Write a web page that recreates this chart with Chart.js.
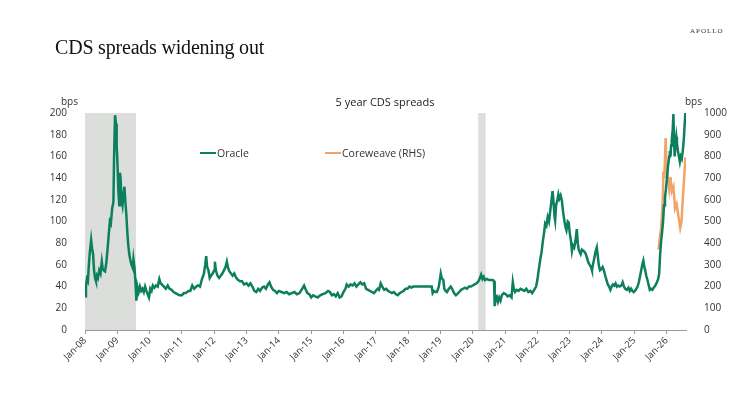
<!DOCTYPE html>
<html>
<head>
<meta charset="utf-8">
<script src="https://cdn.jsdelivr.net/npm/chart.js@4.4.1/dist/chart.umd.min.js"></script>
<style>
  html, body { margin: 0; padding: 0; background: #fff; }
  #wrap { position: relative; width: 741px; height: 403px; overflow: hidden; }
  #c { position: absolute; left: 0; top: 0; }
  .txt { position: absolute; white-space: nowrap; color: #222; }
  #mainTitle { left: 55px; top: 36px; font-family: "Liberation Serif", serif; font-size: 20px; color: #111; letter-spacing: -0.2px; }
  #brand { left: 690px; top: 27px; font-family: "Liberation Serif", serif; font-size: 7px; letter-spacing: 1px; color: #333; }
  #chartTitle { left: 385px; top: 94px; transform: translateX(-50%); font-family: "Open Sans", sans-serif; font-size: 11px; color: #222; }
  .bps { font-family: "Open Sans", sans-serif; font-size: 10px; color: #333; top: 94px; }
  .leg { position: absolute; top: 146px; font-family: "Open Sans", sans-serif; font-size: 10.5px; color: #333; display: flex; align-items: center; }
  .leg span.sw { display: inline-block; width: 16px; height: 2.5px; margin-right: 1px; }
</style>
</head>
<body>
<div id="wrap">
  <canvas id="c" width="741" height="403"></canvas>
  <div class="txt" id="mainTitle">CDS spreads widening out</div>
  <div class="txt" id="brand">APOLLO</div>
  <div class="txt" id="chartTitle">5 year CDS spreads</div>
  <div class="txt bps" style="left:61px;">bps</div>
  <div class="txt bps" style="left:685px;">bps</div>
  <div class="leg" style="left:200px;"><span class="sw" style="background:#0b7f5e"></span>Oracle</div>
  <div class="leg" style="left:325px;"><span class="sw" style="background:#f0a468"></span>Coreweave (RHS)</div>
</div>
<script>
// ---- Data (years as decimal) ----
const tickYears = [2008,2009,2010,2011,2012,2013,2014,2015,2016,2017,2018,2019,2020,2021,2022,2023,2024,2025,2026];
const tickLabels = ["Jan-08","Jan-09","Jan-10","Jan-11","Jan-12","Jan-13","Jan-14","Jan-15","Jan-16","Jan-17","Jan-18","Jan-19","Jan-20","Jan-21","Jan-22","Jan-23","Jan-24","Jan-25","Jan-26"];
const recessionStart = [2008.0, 2020.17];
const recessionEnd   = [2009.58, 2020.40];

const oracleX = [
2008.00,2008.03,2008.06,2008.09,2008.12,2008.15,2008.19,2008.22,2008.25,2008.28,2008.31,2008.34,2008.37,2008.40,2008.44,2008.48,2008.52,2008.55,2008.58,2008.62,
2008.66,2008.70,2008.74,2008.77,2008.80,2008.84,2008.88,2008.90,2008.93,2008.96,2008.98,2009.00,2009.03,2009.06,2009.08,2009.10,2009.13,2009.16,2009.19,2009.22,
2009.25,2009.28,2009.31,2009.34,2009.37,2009.40,2009.44,2009.48,2009.50,2009.53,2009.56,2009.59,2009.62,2009.66,2009.70,2009.74,2009.78,2009.82,2009.86,2009.90,
2009.94,2009.98,2010.02,2010.06,2010.10,2010.15,2010.20,2010.25,2010.30,2010.34,2010.38,2010.44,2010.50,2010.56,2010.62,2010.68,2010.74,2010.80,2010.86,2010.92,
2011.00,2011.06,2011.12,2011.20,2011.26,2011.32,2011.38,2011.44,2011.50,2011.56,2011.62,2011.68,2011.72,2011.75,2011.78,2011.82,2011.86,2011.90,2011.95,2012.00,
2012.02,2012.05,2012.10,2012.15,2012.20,2012.25,2012.30,2012.35,2012.39,2012.43,2012.47,2012.52,2012.57,2012.62,2012.68,2012.74,2012.80,2012.86,2012.92,2013.00,
2013.06,2013.12,2013.18,2013.24,2013.30,2013.36,2013.42,2013.48,2013.54,2013.60,2013.66,2013.71,2013.76,2013.82,2013.88,2013.94,2014.00,2014.08,2014.16,2014.24,
2014.32,2014.40,2014.48,2014.56,2014.64,2014.72,2014.78,2014.82,2014.88,2014.94,2015.00,2015.06,2015.12,2015.20,2015.28,2015.36,2015.44,2015.52,2015.58,2015.64,
2015.70,2015.76,2015.82,2015.88,2015.94,2016.00,2016.06,2016.10,2016.16,2016.22,2016.28,2016.34,2016.40,2016.46,2016.52,2016.58,2016.64,2016.70,2016.76,2016.82,
2016.88,2016.94,2017.00,2017.06,2017.10,2017.15,2017.20,2017.26,2017.32,2017.38,2017.44,2017.50,2017.56,2017.62,2017.68,2017.74,2017.80,2017.86,2017.92,2017.98,
2018.04,2018.10,2018.16,2018.73,2018.76,2018.80,2018.85,2018.89,2018.95,2019.01,2019.04,2019.09,2019.12,2019.16,2019.20,2019.26,2019.32,2019.36,2019.42,2019.48,
2019.52,2019.58,2019.64,2019.70,2019.76,2019.82,2019.88,2019.94,2020.00,2020.06,2020.12,2020.18,2020.22,2020.26,2020.30,2020.34,2020.38,2020.44,2020.50,2020.56,
2020.62,2020.66,2020.68,2020.71,2020.74,2020.78,2020.82,2020.86,2020.90,2020.96,2021.02,2021.08,2021.14,2021.20,2021.24,2021.27,2021.31,2021.36,2021.42,2021.48,
2021.54,2021.60,2021.66,2021.72,2021.78,2021.84,2021.90,2021.96,2022.00,2022.04,2022.09,2022.13,2022.17,2022.21,2022.24,2022.28,2022.32,2022.36,2022.40,2022.44,
2022.47,2022.50,2022.53,2022.55,2022.58,2022.62,2022.65,2022.68,2022.72,2022.76,2022.80,2022.84,2022.87,2022.90,2022.94,2022.97,2023.00,2023.04,2023.07,2023.10,
2023.14,2023.18,2023.22,2023.25,2023.28,2023.31,2023.34,2023.38,2023.42,2023.46,2023.50,2023.54,2023.58,2023.62,2023.66,2023.69,2023.72,2023.76,2023.80,2023.84,
2023.87,2023.90,2023.94,2023.98,2024.02,2024.06,2024.10,2024.14,2024.18,2024.22,2024.26,2024.30,2024.34,2024.38,2024.42,2024.46,2024.50,2024.55,2024.60,2024.64,
2024.68,2024.72,2024.77,2024.82,2024.86,2024.90,2024.94,2024.98,2025.02,2025.06,2025.10,2025.14,2025.18,2025.22,2025.26,2025.28,2025.31,2025.34,2025.37,2025.40,
2025.44,2025.48,2025.52,2025.56,2025.60,2025.65,2025.70,2025.74,2025.77,2025.80,2025.83,2025.86,2025.89,2025.92,2025.95,2025.98,2026.01,2026.04,2026.06,2026.08,
2026.10,2026.12,2026.14,2026.16,2026.19,2026.21,2026.23,2026.25,2026.27,2026.30,2026.32,2026.35,2026.38,2026.41,2026.44,2026.47,2026.50,2026.53,2026.56,2026.58
];
const oracleY = [
31,40,47,45,60,72,83,75,70,55,48,45,50,48,55,52,63,56,55,54,
62,75,90,100,98,112,118,160,198,190,170,158,130,115,145,140,120,115,125,132,
118,106,90,78,70,65,60,57,65,58,45,27,40,35,40,36,38,35,40,36,
33,30,38,36,41,39,41,40,47,43,42,40,38,41,38,37,35,34,33,32,
32,34,34,36,36,41,38,40,41,40,47,52,60,68,58,55,48,50,52,55,
63,55,50,48,50,52,55,58,63,57,54,52,50,52,48,46,45,45,42,43,
41,43,40,36,35,38,36,39,40,38,42,44,40,37,36,34,36,35,34,35,
33,34,35,33,34,38,41,38,34,33,30,32,31,30,32,33,34,36,35,32,
33,31,34,30,31,35,38,42,40,42,41,43,40,42,44,42,43,38,37,36,
35,34,36,38,37,43,40,37,38,36,35,34,35,33,32,34,35,36,38,38,
40,39,40,40,34,36,35,35,40,52,48,46,38,36,35,38,40,38,34,32,
33,35,37,38,39,38,40,40,41,42,43,45,48,51,47,49,46,47,46,46,
46,45,22,30,31,26,30,27,32,34,33,31,32,30,44,38,35,37,36,38,
37,36,38,35,36,34,37,40,46,55,65,72,82,90,98,96,104,100,110,120,
128,118,105,101,115,120,125,121,124,119,108,100,95,92,100,99,90,82,73,78,
76,82,93,80,74,72,70,74,73,72,70,66,62,60,58,55,60,66,72,76,
68,60,55,56,58,55,50,46,42,40,37,40,42,41,43,40,41,40,41,44,
40,38,37,39,36,38,36,35,36,38,40,44,50,56,62,64,58,55,50,47,
42,37,38,37,39,41,44,47,52,70,82,90,100,115,122,130,140,150,155,160,
165,160,170,175,185,199,175,160,170,178,172,165,160,155,160,158,165,175,190,200
];

const coreX = [2025.75,2025.83,2025.88,2025.90,2025.93,2025.97,2026.00,2026.04,2026.08,2026.12,2026.16,2026.21,2026.26,2026.31,2026.37,2026.42,2026.46,2026.50,2026.55,2026.58];
const coreY = [370,470,590,730,700,885,740,700,650,705,640,660,560,580,520,470,500,600,720,795];

// ---- Chart ----
Chart.defaults.font.family = "'Open Sans', sans-serif";
Chart.defaults.color = '#333';

const bandPlugin = {
  id: 'bands',
  beforeDatasetsDraw(chart) {
    const {ctx, chartArea, scales} = chart;
    ctx.save();
    ctx.fillStyle = '#dcdedc';
    for (let i = 0; i < recessionStart.length; i++) {
      const x1 = scales.x.getPixelForValue(recessionStart[i]);
      const x2 = scales.x.getPixelForValue(recessionEnd[i]);
      ctx.fillRect(x1, chartArea.top, x2 - x1, chartArea.bottom - chartArea.top);
    }
    ctx.restore();
  }
};

new Chart(document.getElementById('c'), {
  type: 'line',
  data: {
    datasets: [
      {
        label: 'Oracle',
        data: oracleX.map((x, i) => ({x, y: oracleY[i]})),
        borderColor: '#0b7f5e',
        borderWidth: 2.5,
        pointRadius: 0,
        tension: 0,
        yAxisID: 'y'
      },
      {
        label: 'Coreweave (RHS)',
        data: coreX.map((x, i) => ({x, y: coreY[i]})),
        borderColor: '#f0a468',
        borderWidth: 2.5,
        pointRadius: 0,
        tension: 0,
        yAxisID: 'y2'
      }
    ]
  },
  options: {
    responsive: false,
    animation: false,
    layout: { padding: { top: 113 } },
    plugins: {
      legend: { display: false },
      tooltip: { enabled: false },
      title: { display: false }
    },
    scales: {
      x: {
        type: 'linear',
        min: 2008,
        max: 2026.6,
        afterBuildTicks(scale) { scale.ticks = tickYears.map(v => ({value: v})); },
        afterFit(scale) { scale.height = 73; },
        ticks: {
          autoSkip: false,
          maxRotation: 45,
          minRotation: 45,
          padding: 1,
          font: { size: 9.5 },
          color: '#333',
          callback(value) { const i = tickYears.indexOf(value); return i >= 0 ? tickLabels[i] : ''; }
        },
        grid: { display: true, drawOnChartArea: false, drawTicks: true, tickLength: 4, color: '#999' },
        border: { display: true, color: '#999' }
      },
      y: {
        position: 'left',
        min: 0,
        max: 200,
        afterFit(scale) { scale.width = 85; },
        ticks: { stepSize: 20, padding: 10, font: { size: 10 }, color: '#333', callback: v => String(v) },
        grid: { display: false },
        border: { display: false }
      },
      y2: {
        position: 'right',
        min: 0,
        max: 1000,
        afterFit(scale) { scale.width = 55; },
        ticks: { stepSize: 100, padding: 10, font: { size: 10 }, color: '#333', callback: v => String(v) },
        grid: { display: false },
        border: { display: false }
      }
    }
  },
  plugins: [bandPlugin]
});
</script>
</body>
</html>
